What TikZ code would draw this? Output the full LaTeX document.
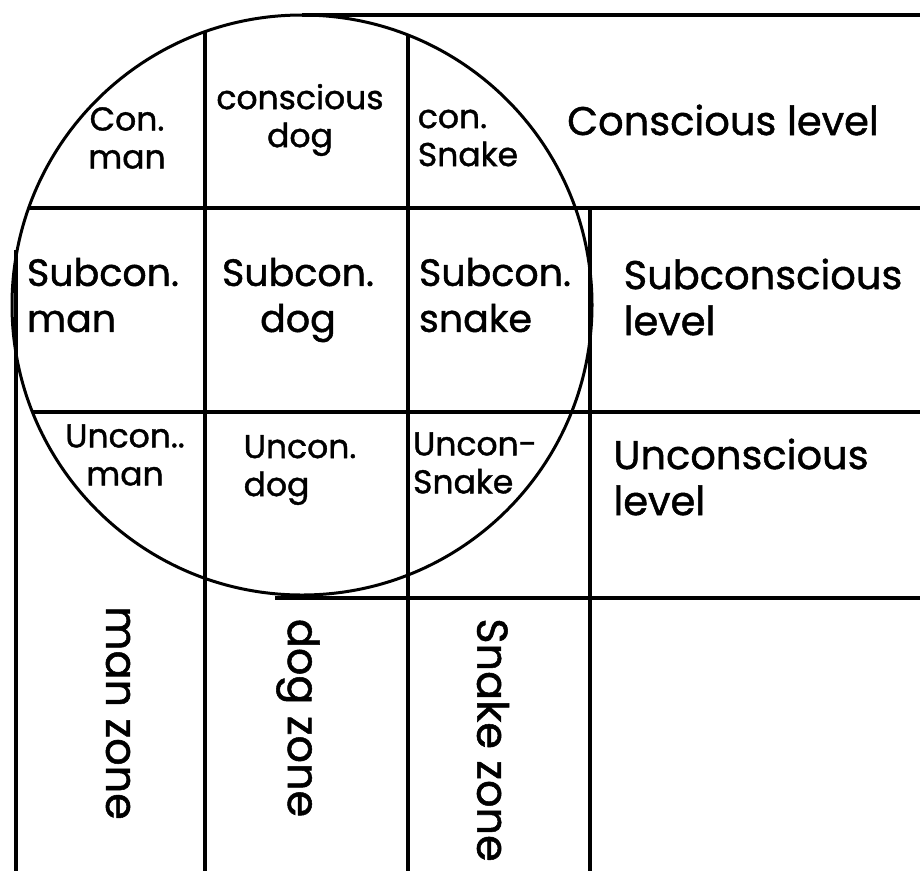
\documentclass[tikz,border=0pt]{standalone}
\usepackage{fontspec}
\setmainfont{Poppins}[BoldFont=Poppins,BoldFeatures={FakeBold=1.2}]
\begin{document}
\begin{tikzpicture}[x=1pt,y=-1pt,line width=4pt,every node/.style={font=\bfseries},
  cellsm/.style={font=\fontsize{33}{38}\selectfont\bfseries,inner sep=0pt},
  cell/.style={font=\fontsize{38}{46}\selectfont\bfseries,inner sep=0pt},
  level/.style={font=\fontsize{40}{46}\selectfont\bfseries,inner sep=0pt,align=left},
  zone/.style={font=\fontsize{43}{43}\selectfont\bfseries,inner sep=0pt,rotate=-90}]
\useasboundingbox (0,0) rectangle (920,871);
% the big circle
\draw[line width=3pt] (302,305) circle (290pt);
% levels
\draw (302,15) -- (920,15);
\draw (29,208) -- (920,208);
\draw (33,412) -- (920,412);
\draw (275,598) -- (920,598);
% zones
\draw (16,250) -- (16,871);
\draw (205,32) -- (205,871);
\draw (408,35) -- (408,871);
\draw (590,208) -- (590,871);
% conscious row
\node[cellsm,align=center] (conman) at (127,138) {Con.\\man};
\node[cellsm,align=center] (condog) at (300,120) {conscious\\dog};
\node[cellsm,align=left] (consnake) at (468,138) {con.\\Snake};
\node[level] (conlevel) at (723,120) {Conscious level};
% subconscious row
\node[cell,align=left] (subman) at (103,295) {Subcon.\\man};
\node[cell,align=center] (subdog) at (298,300) {Subcon.\\dog};
\node[cell,align=left] (subsnake) at (495,295) {Subcon.\\snake};
\node[level] (sublevel) at (763,297) {Subconscious\\level};
% unconscious row
\node[cellsm,align=center] (unman) at (125,455) {Uncon..\\man};
\node[cellsm,align=left] (undog) at (300,470) {Uncon.\\dog};
\node[cellsm,align=left] (unsnake) at (475,463) {Uncon-\\Snake};
\node[level] (unlevel) at (741,477) {Unconscious\\level};
% zone labels
\node[zone] (manzone) at (118,713) {man zone};
\node[zone] (dogzone) at (298,718) {dog zone};
\node[zone] (snakezone) at (493,740) {Snake zone};
\end{tikzpicture}
\end{document}
